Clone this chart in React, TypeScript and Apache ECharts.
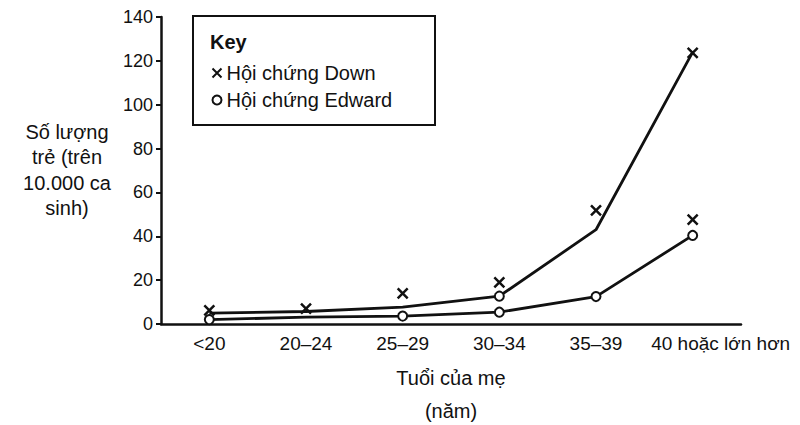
import React, { useEffect, useRef } from "react";
import * as echarts from "echarts";

const categories = ["<20", "20–24", "25–29", "30–34", "35–39", "40 hoặc lớn hơn"];
const yTicks = { min: 0, max: 140, interval: 20 };
const downLine = [5, 5.7, 7.7, 12.7, 43, 124];
const downLineCircleAt = [3];
const edwardLine = [2, 3.1, 3.6, 5.4, 12.5, 40.4];
const edwardCircleAt = [0, 2, 3, 4, 5];
const downCrosses: [number, number][] = [
  [0, 6.2],
  [1, 7],
  [2, 14],
  [3, 19],
  [4, 51.8],
  [5, 123.6],
  [5, 47.6],
];
const legendNames = ["Hội chứng Down", "Hội chứng Edward"];
const keyTitle = "Key";
const yAxisTitle = "Số lượng\ntrẻ (trên\n10.000 ca\nsinh)";
const xAxisTitle = "Tuổi của mẹ\n(năm)";

const INK = "#111";
const FONT = "Liberation Sans, Arial, sans-serif";
const CROSS = "path://M0,0L10,10M10,0L0,10";

export default function App() {
  const ref = useRef<HTMLDivElement>(null);
  useEffect(() => {
    if (!ref.current) return;
    const chart = echarts.init(ref.current, null, { renderer: "svg" });
    const lastIdx = categories.length - 1;
    chart.setOption({
      animation: false,
      backgroundColor: "#fff",
      textStyle: { fontFamily: FONT, color: INK },
      grid: {
        left: 161,
        right: 59,
        top: 17,
        bottom: 101,
        containLabel: false,
        outerBoundsMode: "none",
      },
      xAxis: {
        type: "category",
        data: categories,
        boundaryGap: true,
        name: xAxisTitle,
        nameLocation: "middle",
        nameGap: 37,
        nameTextStyle: { fontSize: 20, lineHeight: 33, color: INK, fontFamily: FONT },
        axisLine: { lineStyle: { color: INK, width: 2.5 } },
        axisTick: { alignWithLabel: true, length: 5, lineStyle: { color: INK, width: 2 } },
        axisLabel: {
          color: INK,
          fontSize: 19,
          margin: 10,
          interval: 0,
          formatter: (v: string, i: number) => (i === lastIdx ? "{last|" + v + "}" : v),
          rich: { last: { fontSize: 19, color: INK, fontFamily: FONT, padding: [0, 0, 0, 56] } },
        },
        splitLine: { show: false },
      },
      yAxis: {
        type: "value",
        min: yTicks.min,
        max: yTicks.max,
        interval: yTicks.interval,
        axisLine: { show: true, lineStyle: { color: INK, width: 2.5 } },
        axisTick: { show: true, length: 5, lineStyle: { color: INK, width: 2 } },
        axisLabel: { color: INK, fontSize: 18, margin: 8 },
        splitLine: { show: false },
      },
      legend: {
        orient: "vertical",
        left: 205,
        top: 58,
        itemWidth: 9,
        itemHeight: 9,
        itemGap: 7,
        selectedMode: false,
        textStyle: { fontSize: 20, color: INK, fontFamily: FONT },
        data: [
          {
            name: legendNames[0],
            icon: CROSS,
            itemStyle: { color: "none", borderColor: INK, borderWidth: 2, opacity: 1 },
          },
          {
            name: legendNames[1],
            icon: "circle",
            itemStyle: { color: "#fff", borderColor: INK, borderWidth: 2, opacity: 1 },
          },
        ],
      },
      graphic: [
        {
          type: "rect",
          shape: { x: 193, y: 16, width: 242, height: 109 },
          style: { fill: "#fff", stroke: INK, lineWidth: 2 },
          z: 0,
        },
        {
          type: "text",
          x: 210,
          y: 42,
          style: {
            text: keyTitle,
            fontSize: 20,
            fontWeight: "bold",
            fill: INK,
            fontFamily: FONT,
            verticalAlign: "middle",
          },
        },
        {
          type: "text",
          x: 67,
          y: 119,
          style: {
            text: yAxisTitle,
            fontSize: 20,
            lineHeight: 25.5,
            fill: INK,
            fontFamily: FONT,
            align: "center",
            verticalAlign: "top",
          },
        },
      ],
      series: [
        {
          name: "Down (đường)",
          type: "line",
          data: downLine.map((v, i) =>
            downLineCircleAt.includes(i) ? { value: v } : { value: v, symbol: "none" }
          ),
          symbol: "circle",
          symbolSize: 9,
          showSymbol: true,
          itemStyle: { color: "#fff", borderColor: INK, borderWidth: 2, opacity: 1 },
          lineStyle: { color: INK, width: 2.8 },
          z: 2,
          silent: true,
        },
        {
          name: legendNames[1],
          type: "line",
          data: edwardLine.map((v, i) =>
            edwardCircleAt.includes(i) ? { value: v } : { value: v, symbol: "none" }
          ),
          symbol: "circle",
          symbolSize: 9,
          showSymbol: true,
          itemStyle: { color: "#fff", borderColor: INK, borderWidth: 2, opacity: 1 },
          lineStyle: { color: INK, width: 2.8 },
          z: 2,
          silent: true,
        },
        {
          name: legendNames[0],
          type: "scatter",
          data: downCrosses,
          symbol: CROSS,
          symbolSize: 10,
          itemStyle: { color: "none", borderColor: INK, borderWidth: 2.5, opacity: 1 },
          z: 3,
          silent: true,
        },
      ],
    });
    return () => chart.dispose();
  }, []);
  return (
    <div
      ref={ref}
      style={{ position: "fixed", left: 0, top: 0, width: 800, height: 425 }}
    />
  );
}
